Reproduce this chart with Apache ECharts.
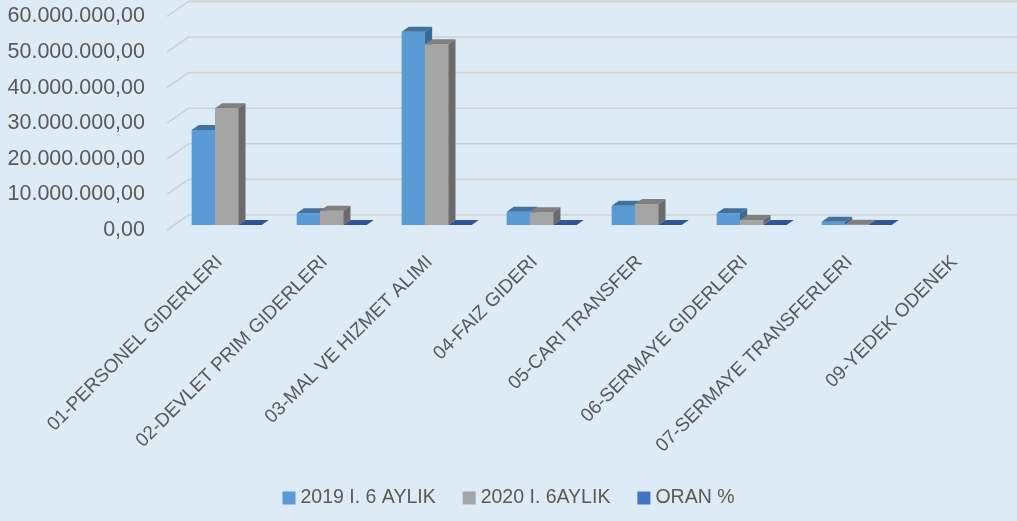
<!DOCTYPE html>
<html>
<head>
<meta charset="utf-8">
<script src="https://cdn.jsdelivr.net/npm/echarts@6/dist/echarts.min.js"></script>
<style>
html,body{margin:0;padding:0;background:#DDEBF7;}
#main{width:1017px;height:521px;}
</style>
</head>
<body>
<div id="main"></div>
<script>
var categories = ['01-PERSONEL GIDERLERI','02-DEVLET PRIM GIDERLERI','03-MAL VE HIZMET ALIMI','04-FAIZ GIDERI','05-CARI TRANSFER','06-SERMAYE GIDERLERI','07-SERMAYE TRANSFERLERI','09-YEDEK ODENEK'];
var seriesNames = ['2019 I. 6 AYLIK','2020 I. 6AYLIK','ORAN %'];
var v2019 = [26700000, 3300000, 54300000, 3700000, 5400000, 3300000, 900000, null];
var v2020 = [32800000, 4000000, 50800000, 3600000, 5900000, 1400000, 60000, null];
var oran  = [122.8, 121.2, 93.6, 97.3, 109.3, 42.4, 6.7, null];
var yTicks = [0, 10000000, 20000000, 30000000, 40000000, 50000000, 60000000];

var WALL = [21.5, -15];          // depth offset of the back wall
var BAR_FRONT = 1/3, BAR_BACK = 2/3;
var BAR_FRAC = 0.2222;

var colors = [
  {front:'#5B9BD5', top:'#41719C', side:'#3A6A97'},
  {front:'#A5A5A5', top:'#7F7F7F', side:'#6B6B6B'},
  {front:'#4472C4', top:'#2F5597', side:'#2A4D8A'}
];

function fmt(v){
  return Math.round(v).toString().replace(/\B(?=(\d{3})+(?!\d))/g,'.') + ',00';
}

function makeBarRender(idx){
  var col = colors[idx];
  return function(params, api){
    var v = api.value(1);
    if (v == null || isNaN(v)) return;
    var cat = api.value(0);
    var band = api.size([1,0])[0];
    var bw = band*BAR_FRAC;
    var c0 = api.coord([cat, 0]);
    var c1 = api.coord([cat, v]);
    var fx = WALL[0]*BAR_FRONT, fy = WALL[1]*BAR_FRONT;
    var bx = WALL[0]*(BAR_BACK-BAR_FRONT), by = WALL[1]*(BAR_BACK-BAR_FRONT);
    var x0 = c0[0] + (idx-1.5)*bw + fx;
    var x1 = x0 + bw;
    var yb = c0[1] + fy;
    var yt = c1[1] + fy;
    return {
      type:'group',
      children:[
        {type:'rect', shape:{x:x0, y:yt, width:bw, height:Math.max(0, yb-yt)}, style:{fill:col.front}},
        {type:'polygon', shape:{points:[[x0,yt],[x1,yt],[x1+bx,yt+by],[x0+bx,yt+by]]}, style:{fill:col.top}},
        {type:'polygon', shape:{points:[[x1,yt],[x1+bx,yt+by],[x1+bx,yb+by],[x1,yb]]}, style:{fill:col.side}}
      ]
    };
  };
}

function gridRender(params, api){
  var v = api.value(1);
  var cs = params.coordSys;
  var p = api.coord([0, v]);
  var y = p[1];
  var xl = cs.x;
  var xr = cs.x + cs.width + WALL[0] + 20;
  return {
    type:'group',
    children:[
      {type:'line', shape:{x1:xl, y1:y, x2:xl+WALL[0], y2:y+WALL[1]}, style:{stroke:'#D0D0D0', lineWidth:1.6}},
      {type:'line', shape:{x1:xl+WALL[0], y1:y+WALL[1], x2:xr, y2:y+WALL[1]}, style:{stroke:'#D0D0D0', lineWidth:1.6}}
    ]
  };
}

function seriesData(arr){
  return arr.map(function(v,i){ return [i, v]; });
}

var chart = echarts.init(document.getElementById('main'), null, {renderer:'canvas'});
var option = {
  backgroundColor:'#DDEBF7',
  animation:false,
  grid:{left:167, right:10, top:16.4, bottom:291},
  legend:{
    bottom:8, left:'center',
    itemWidth:13, itemHeight:13, itemGap:27,
    icon:'rect',
    textStyle:{fontFamily:'Liberation Sans', fontSize:19.5, color:'#595959'},
    data:seriesNames
  },
  xAxis:{type:'category', data:categories, axisLine:{show:false}, axisTick:{show:false}, splitLine:{show:false},
     axisLabel:{interval:0, rotate:45, margin:29, fontFamily:'Liberation Sans', fontSize:19, color:'#595959'}},
  yAxis:{type:'value', min:0, max:60000000, interval:10000000,
     axisLine:{show:false}, axisTick:{show:false}, splitLine:{show:false},
     axisLabel:{margin:22, fontFamily:'Liberation Sans', fontSize:21.5, color:'#595959', formatter:fmt}},
  series:[
    {type:'custom', name:'grid', silent:true, z:1,
     renderItem:gridRender, data:yTicks.map(function(t){return [0,t];}), encode:{x:0,y:1}},
    {type:'custom', name:seriesNames[0], z:2, itemStyle:{color:colors[0].front},
     renderItem:makeBarRender(0), data:seriesData(v2019), encode:{x:0,y:1}},
    {type:'custom', name:seriesNames[1], z:3, itemStyle:{color:colors[1].front},
     renderItem:makeBarRender(1), data:seriesData(v2020), encode:{x:0,y:1}},
    {type:'custom', name:seriesNames[2], z:4, itemStyle:{color:colors[2].front},
     renderItem:makeBarRender(2), data:seriesData(oran), encode:{x:0,y:1}}
  ]
};
chart.setOption(option);
</script>
</body>
</html>
